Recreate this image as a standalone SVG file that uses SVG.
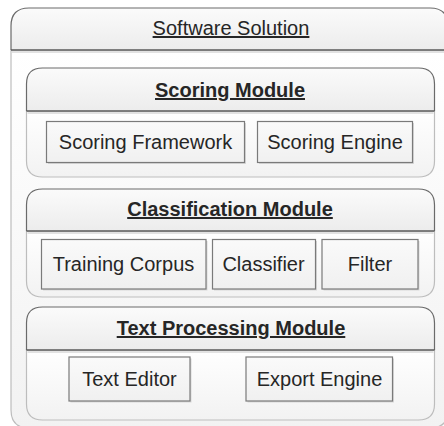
<svg xmlns="http://www.w3.org/2000/svg" width="444" height="426" viewBox="0 0 444 426">
<defs>
<linearGradient id="hdr" x1="0" y1="0" x2="0" y2="1"><stop offset="0" stop-color="#fbfbfb"/><stop offset="1" stop-color="#ececec"/></linearGradient>
<linearGradient id="body" x1="0" y1="0" x2="0" y2="1"><stop offset="0" stop-color="#ffffff"/><stop offset="1" stop-color="#f2f2f2"/></linearGradient>
<linearGradient id="leaf" x1="0" y1="0" x2="0" y2="1"><stop offset="0" stop-color="#fafafa"/><stop offset="1" stop-color="#f0f0f0"/></linearGradient>
<style>
text{font-family:"Liberation Sans",Arial,sans-serif;font-size:20px;fill:#262626;text-anchor:middle}
.t{text-decoration:underline}
.b{font-weight:bold}
.hd{fill:url(#hdr);stroke:#6a6a6a;stroke-width:1.2}
.bd{fill:url(#body);stroke:#bdbdbd;stroke-width:1.2}
.ln{stroke:#5a5a5a;stroke-width:1.4}
.sh{stroke:#e2e2e2;stroke-width:2}
.lf{fill:url(#leaf);stroke:#7a7a7a;stroke-width:1.2}
.ls{fill:#d8d8d8}
</style>
</defs>
<g id="software-solution">
<path class="bd" d="M11,50 V410 Q11,428 29,428 H430 Q448,428 448,410 V50 Z"/>
<path class="hd" d="M11,50 V26 Q11,8 29,8 H430 Q448,8 448,26 V50"/>
<line class="ln" x1="11" y1="50" x2="448" y2="50"/>
<line class="sh" x1="12" y1="52" x2="447" y2="52"/>
<text class="t" x="231" y="35">Software Solution</text>
</g>
<g id="scoring-module">
<path class="bd" d="M26.5,111 V161 Q26.5,177 42.5,177 H418.5 Q434.5,177 434.5,161 V111 Z"/>
<path class="hd" d="M26.5,111 V84 Q26.5,68 42.5,68 H418.5 Q434.5,68 434.5,84 V111"/>
<line class="ln" x1="26.5" y1="111" x2="434.5" y2="111"/>
<line class="sh" x1="27.5" y1="113" x2="433.5" y2="113"/>
<text class="t b" x="230" y="97">Scoring Module</text>
</g>
<g id="scoring-framework">
<rect class="ls" x="48" y="123" width="198" height="41"/>
<rect class="lf" x="46.5" y="121.5" width="198" height="41"/>
<text x="145.5" y="149">Scoring Framework</text>
</g>
<g id="scoring-engine">
<rect class="ls" x="259" y="123" width="155" height="41"/>
<rect class="lf" x="257.5" y="121.5" width="155" height="41"/>
<text x="335" y="149">Scoring Engine</text>
</g>
<g id="classification-module">
<path class="bd" d="M26.5,231 V281 Q26.5,297 42.5,297 H418.5 Q434.5,297 434.5,281 V231 Z"/>
<path class="hd" d="M26.5,231 V205 Q26.5,189 42.5,189 H418.5 Q434.5,189 434.5,205 V231"/>
<line class="ln" x1="26.5" y1="231" x2="434.5" y2="231"/>
<line class="sh" x1="27.5" y1="233" x2="433.5" y2="233"/>
<text class="t b" x="230" y="216">Classification Module</text>
</g>
<g id="training-corpus">
<rect class="ls" x="43" y="241" width="164.5" height="49.5"/>
<rect class="lf" x="41.5" y="239.5" width="164.5" height="49.5"/>
<text x="123.5" y="271">Training Corpus</text>
</g>
<g id="classifier">
<rect class="ls" x="214" y="241" width="103" height="49.5"/>
<rect class="lf" x="212.5" y="239.5" width="103" height="49.5"/>
<text x="263.5" y="271">Classifier</text>
</g>
<g id="filter">
<rect class="ls" x="323.5" y="241" width="96" height="49.5"/>
<rect class="lf" x="322" y="239.5" width="96" height="49.5"/>
<text x="370" y="271">Filter</text>
</g>
<g id="text-processing-module">
<path class="bd" d="M26.5,350 V404 Q26.5,420 42.5,420 H418.5 Q434.5,420 434.5,404 V350 Z"/>
<path class="hd" d="M26.5,350 V323 Q26.5,307 42.5,307 H418.5 Q434.5,307 434.5,323 V350"/>
<line class="ln" x1="26.5" y1="350" x2="434.5" y2="350"/>
<line class="sh" x1="27.5" y1="352" x2="433.5" y2="352"/>
<text class="t b" x="231" y="335">Text Processing Module</text>
</g>
<g id="text-editor">
<rect class="ls" x="70.5" y="358.5" width="121" height="44"/>
<rect class="lf" x="69" y="357" width="121" height="44"/>
<text x="129.5" y="386">Text Editor</text>
</g>
<g id="export-engine">
<rect class="ls" x="247.5" y="358.5" width="146.5" height="44"/>
<rect class="lf" x="246" y="357" width="146.5" height="44"/>
<text x="319.5" y="386">Export Engine</text>
</g>
<g id="connectors"></g>
</svg>
